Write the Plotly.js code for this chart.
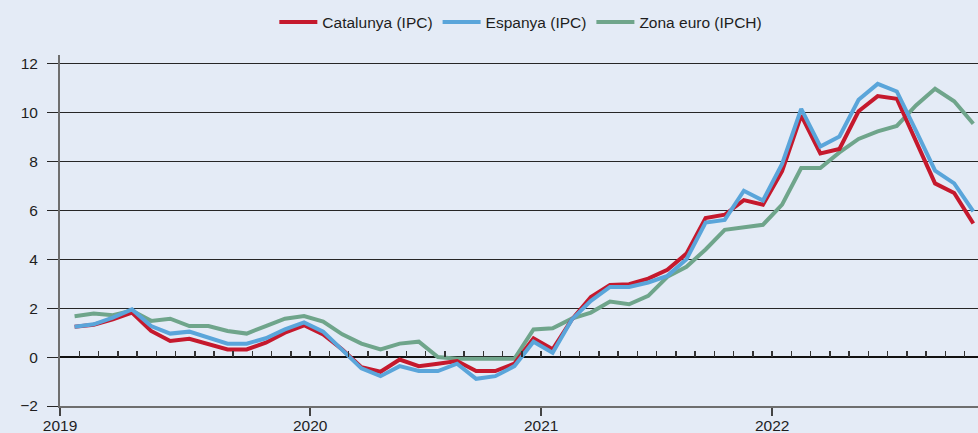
<!DOCTYPE html>
<html>
<head>
<meta charset="utf-8">
<script src="https://cdn.plot.ly/plotly-3.0.1.min.js"></script>
<style>
  html, body { margin: 0; padding: 0; background: #E4EBF6; }
  #chart { width: 978px; height: 433px; }
</style>
</head>
<body>
<div id="chart"></div>
<script>
// Months (Jan 2019 – Dec 2022)
const months = [
  '2019-01','2019-02','2019-03','2019-04','2019-05','2019-06','2019-07','2019-08','2019-09','2019-10','2019-11','2019-12',
  '2020-01','2020-02','2020-03','2020-04','2020-05','2020-06','2020-07','2020-08','2020-09','2020-10','2020-11','2020-12',
  '2021-01','2021-02','2021-03','2021-04','2021-05','2021-06','2021-07','2021-08','2021-09','2021-10','2021-11','2021-12',
  '2022-01','2022-02','2022-03','2022-04','2022-05','2022-06','2022-07','2022-08','2022-09','2022-10','2022-11','2022-12'
];

const catalunya = [
  1.24, 1.32, 1.54, 1.82, 1.07, 0.66, 0.75, 0.52, 0.31, 0.31, 0.59, 1.00,
  1.30, 0.93, 0.31, -0.41, -0.60, -0.10, -0.37, -0.27, -0.16, -0.57, -0.57, -0.27,
  0.77, 0.32, 1.53, 2.46, 2.95, 2.98, 3.21, 3.57, 4.23, 5.68, 5.82, 6.42,
  6.23, 7.60, 9.88, 8.33, 8.51, 10.05, 10.67, 10.56, 8.85, 7.10, 6.71, 5.46
];

const espanya = [
  1.24, 1.34, 1.61, 1.95, 1.27, 0.96, 1.04, 0.79, 0.55, 0.55, 0.77, 1.13,
  1.42, 1.04, 0.31, -0.46, -0.78, -0.37, -0.57, -0.57, -0.27, -0.89, -0.78, -0.37,
  0.63, 0.18, 1.53, 2.30, 2.87, 2.87, 3.05, 3.32, 4.00, 5.50, 5.61, 6.80,
  6.40, 7.90, 10.15, 8.61, 9.02, 10.52, 11.17, 10.86, 9.26, 7.62, 7.10, 5.96
];

const zonaEuro = [
  1.67, 1.78, 1.71, 1.90, 1.48, 1.57, 1.27, 1.27, 1.07, 0.96, 1.27, 1.57,
  1.68, 1.45, 0.93, 0.55, 0.31, 0.55, 0.63, 0.00, -0.07, -0.07, -0.07, -0.07,
  1.13, 1.18, 1.57, 1.82, 2.27, 2.16, 2.50, 3.28, 3.69, 4.40, 5.20, 5.30,
  5.41, 6.23, 7.73, 7.73, 8.37, 8.92, 9.23, 9.45, 10.29, 10.97, 10.46, 9.54
];

const seriesNames = ['Catalunya (IPC)', 'Espanya (IPC)', 'Zona euro (IPCH)'];
const yearLabels = ['2019', '2020', '2021', '2022'];
const yTickVals = [-2, 0, 2, 4, 6, 8, 10, 12];

// ---- layout helpers (positions/styles) ----
const xIdx = months.map((m, i) => i);
const xRange = [-0.763, 47.246];
const yRange = [-2, 12.35];
const yearTickPos = [xRange[0], 12.32, 24.40, 36.48];
const minorTickPos = [];
for (let k = 0; k <= 46; k++) minorTickPos.push(0.246 + k * 1.0064);
const zeroPos = (0 - yRange[0]) / (yRange[1] - yRange[0]);

const FONT = '"Liberation Sans", Arial, Helvetica, sans-serif';
const BG = '#E4EBF6';

const traces = [
  { x: xIdx, y: zonaEuro, name: seriesNames[2], type: 'scatter', mode: 'lines',
    line: { color: '#6FA58B', width: 4 }, legendrank: 3 },
  { x: xIdx, y: catalunya, name: seriesNames[0], type: 'scatter', mode: 'lines',
    line: { color: '#C5192D', width: 4 }, legendrank: 1 },
  { x: xIdx, y: espanya, name: seriesNames[1], type: 'scatter', mode: 'lines',
    line: { color: '#5AA5DA', width: 4 }, legendrank: 2 },
  { x: [], y: [], xaxis: 'x2', showlegend: false, hoverinfo: 'skip' }
];

const layout = {
  width: 978, height: 433,
  margin: { l: 60, r: 0, t: 54.7, b: 27.3, pad: 0 },
  paper_bgcolor: BG, plot_bgcolor: BG,
  font: { family: FONT, size: 15, color: '#1e1e1e' },
  showlegend: true,
  legend: {
    orientation: 'h', x: 0.502, xanchor: 'center', y: 1.093, yanchor: 'middle',
    font: { family: FONT, size: 15.5, color: '#1e1e1e' },
    bgcolor: 'rgba(0,0,0,0)', itemwidth: 38, traceorder: 'normal'
  },
  xaxis: {
    range: xRange, showgrid: false, zeroline: false,
    showline: true, linecolor: '#6e6e6e', linewidth: 2,
    tickmode: 'array', tickvals: yearTickPos, ticktext: yearLabels,
    ticks: 'outside', ticklen: 8, tickwidth: 2, tickcolor: '#444',
    ticklabelstandoff: -4,
    tickfont: { family: FONT, size: 15.5, color: '#1e1e1e' }
  },
  xaxis2: {
    overlaying: 'x', anchor: 'free', position: zeroPos, side: 'bottom',
    range: xRange, showgrid: false, zeroline: false, showline: false,
    tickmode: 'array', tickvals: minorTickPos, ticks: 'inside', ticklen: 6,
    tickwidth: 1.5, tickcolor: '#333', showticklabels: false
  },
  yaxis: {
    range: yRange, tickmode: 'array', tickvals: yTickVals,
    showgrid: true, gridcolor: '#262626', gridwidth: 1,
    zeroline: true, zerolinecolor: '#111', zerolinewidth: 2,
    showline: true, linecolor: '#6e6e6e', linewidth: 2,
    ticks: 'outside', ticklen: 11, tickwidth: 1, tickcolor: '#262626',
    ticklabelstandoff: 6,
    tickfont: { family: FONT, size: 15.5, color: '#1e1e1e' }
  }
};

Plotly.newPlot('chart', traces, layout, { staticPlot: true, displayModeBar: false });
</script>
</body>
</html>
